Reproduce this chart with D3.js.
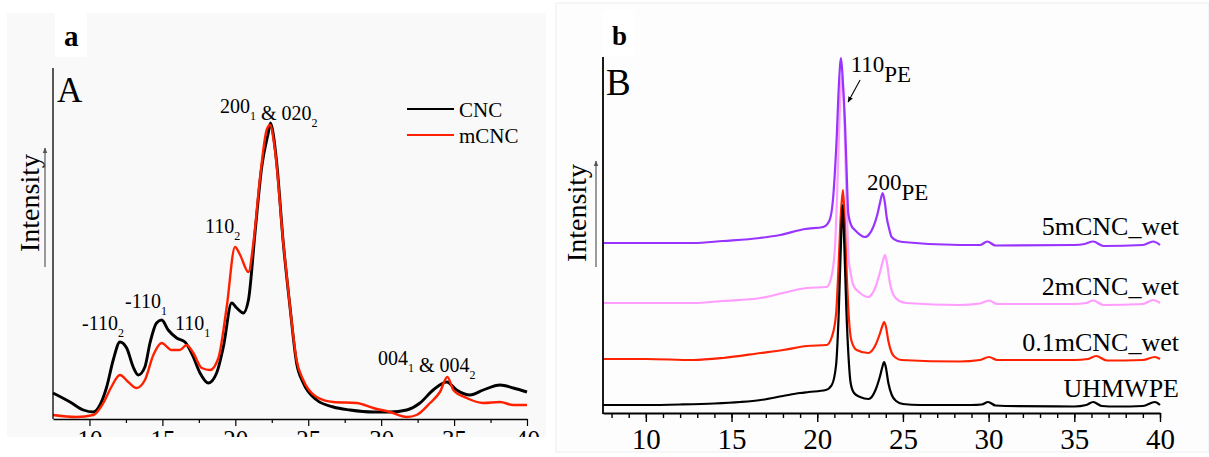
<!DOCTYPE html>
<html>
<head>
<meta charset="utf-8">
<script src="https://cdn.jsdelivr.net/npm/d3@7"></script>
<style>
  body { margin: 0; background: #fff; }
  svg { display: block; }
  text { font-family: "Liberation Serif", "Times New Roman", serif; fill: #000; }
</style>
</head>
<body>
<div id="container"></div>
<script>
// ---------- panel a data (2theta, intensity a.u.) ----------
let cnc = [[7.5,26],[8.67,17],[9.58,9],[10.27,7],[10.72,14],[11.18,32],[11.63,59],[12.09,77],[12.55,71],
  [13.0,52],[13.35,44],[13.8,52],[14.15,76],[14.6,96],[14.95,99],[15.4,89],[15.98,81],[16.55,77],[17.12,62],
  [17.58,46],[18.15,36],[18.72,46],[19.18,72],[19.75,116],[20.1,111],[20.55,106],[20.9,119],[21.35,186],
  [21.81,252],[22.26,286],[22.42,296],[22.6,285],[22.84,256],[23.29,176],[23.75,112],[24.2,56],[24.66,36],
  [25.58,19],[26.72,12],[27.86,9],[29.46,7],[30.6,7],[31.75,9],[32.66,16],[33.57,29],[34.5,37],[35.17,29],
  [36.1,24],[37.0,29],[38.15,34],[39.06,31],[40,27]];
let mcnc = [[7.5,4],[9.1,2],[10.27,4],[10.95,16],[11.5,32],[12.09,44],[12.66,37],[13.23,31],[13.8,39],
  [14.38,64],[14.95,76],[15.63,69],[16.2,69],[16.66,74],[17.12,66],[17.7,51],[18.27,49],[18.84,61],[19.41,112],
  [19.98,172],[20.33,164],[20.9,147],[21.24,176],[21.7,242],[22.15,289],[22.38,294],[22.72,269],[23.29,176],
  [23.75,112],[24.2,59],[24.66,39],[25.58,22],[26.72,17],[28.32,16],[29.46,11],[30.6,7],[31.75,2],[32.43,4],
  [33.35,16],[34.03,27],[34.54,42],[34.95,29],[35.86,21],[37.0,16],[38.15,17],[39.06,14],[40,14]];
let ticksA = [10, 15, 20, 25, 30, 35, 40];
let minorA = [12.5, 17.5, 22.5, 27.5, 32.5, 37.5];
let legendA = ["CNC", "mCNC"];

// ---------- panel b data (2theta, intensity above own baseline) ----------
let uhmwpe = [[7.5,0],[10,0],[12,0.5],[14,1.5],[15.5,3],[16.7,5],[18,9],[19,12],[19.5,13],[20.5,15],[20.85,20],
  [21.1,40],[21.25,90],[21.38,160],[21.48,200],[21.58,160],[21.7,95],[21.82,50],[21.95,22],[22.15,12],[22.5,8],
  [23.0,6],[23.4,15],[23.65,28],[23.8,38],[23.9,43],[24.0,38],[24.15,22],[24.35,10],[24.6,4],[25,1],[26,0],
  [29,0],[29.6,0.5],[29.97,3],[30.4,-0.5],[31,-1],[35,-1.5],[35.7,0],[36.1,3],[36.6,-1],[37.5,-1.5],[39,-1],
  [39.7,3],[40,0]];
let wet01 = [[7.5,0],[10,0],[12.75,-1],[14.5,1],[16.7,6],[18,9],[19.4,13],[20.55,14],[20.85,22],[21.1,45],
  [21.25,95],[21.38,145],[21.5,169],[21.6,140],[21.72,85],[21.85,40],[22.0,18],[22.3,9],[22.97,6],[23.4,14],
  [23.65,25],[23.8,33],[23.9,37],[24.0,33],[24.15,18],[24.35,6],[24.6,1],[24.9,-1],[28.3,-2.5],[29.5,-1],
  [30.02,2],[30.5,-1],[35,-1],[35.8,0],[36.27,3],[36.9,-1.5],[39,-1],[39.7,2],[40,0]];
let wet2 = [[7.5,0],[10,0],[12.75,0],[14.5,2],[16.7,5],[18,10],[19.4,15],[20.55,16],[20.85,28],[21.05,60],
  [21.2,130],[21.33,200],[21.45,228],[21.57,190],[21.7,110],[21.83,45],[21.95,30],[22.1,18],[22.5,10],[22.97,6],
  [23.4,16],[23.65,30],[23.83,42],[23.95,48],[24.07,40],[24.22,22],[24.45,8],[24.8,2],[25.2,0],[28.3,-2],
  [29.5,-0.5],[30.02,2.5],[30.5,-1],[35,-1],[35.7,0],[36.1,2.5],[36.7,-2],[39,-1],[39.6,3],[40,0]];
let wet5 = [[7.5,0],[10,0],[12.75,0],[14.5,2],[16.66,5],[17.83,8],[19.28,14],[20.35,16],[20.7,22],[20.9,40],
  [21.13,103],[21.27,160],[21.39,185],[21.5,160],[21.62,120],[21.72,70],[21.81,30],[22.0,17],[22.2,13],
  [22.78,6],[23.27,16],[23.5,28],[23.66,40],[23.82,50],[23.95,40],[24.05,26],[24.2,14],[24.34,6],[24.7,2],
  [25,1],[28.33,-2],[29.5,-2],[29.92,1.5],[30.4,-2.5],[35,-2],[35.6,-1],[36.1,1.5],[36.7,-3],[39,-2],
  [39.6,1.5],[40,-2]];
let namesB = ["2mCNC_wet", "5mCNC_wet", "0.1mCNC_wet", "UHMWPE"];   // drawing order
let offsetsB = [110, 170, 54, 8];
let ticksB = [10, 15, 20, 25, 30, 35, 40];
let minorB = d3.range(8, 41);

let w = 1209;
let h = 457;
let serif = '"Liberation Serif", "Times New Roman", serif';

let viz = d3.select("#container")
  .append("svg")
    .attr("width", w)
    .attr("height", h)
;

let defs = viz.append("defs");
function addArrow(id, color){
  defs.append("marker")
      .attr("id", id)
      .attr("viewBox", "0 0 10 10")
      .attr("refX", 9).attr("refY", 5)
      .attr("markerWidth", 6).attr("markerHeight", 7)
      .attr("markerUnits", "userSpaceOnUse")
      .attr("orient", "auto")
    .append("path")
      .attr("d", "M0,1L10,5L0,9Z")
      .attr("fill", color);
}
addArrow("arrGray", "#555");
addArrow("arrBlack", "#000");
defs.append("clipPath").attr("id", "clipA")
  .append("rect").attr("x", 7).attr("y", 13).attr("width", 539).attr("height", 424);
defs.append("clipPath").attr("id", "clipB")
  .append("rect").attr("x", 556).attr("y", 3).attr("width", 653).attr("height", 449);

// ================= panel a =================
let xA = d3.scaleLinear().domain([7.5, 40]).range([53, 527]);
let yA = d3.scaleLinear().domain([0, 351]).range([419, 68]);

viz.append("rect")
    .attr("x", 7).attr("y", 13).attr("width", 539).attr("height", 424)
    .attr("fill", "#f9f9f9");
viz.append("rect")
    .attr("x", 55).attr("y", 13).attr("width", 32).attr("height", 44)
    .attr("fill", "#fff");
viz.append("text").attr("x", 64).attr("y", 46)
    .style("font-size", "29px").style("font-weight", "bold").text("a");

let gA = viz.append("g").attr("clip-path", "url(#clipA)");

let lineA = d3.line()
  .x(d => xA(d[0]))
  .y(d => yA(d[1]))
  .curve(d3.curveMonotoneX);

gA.append("path").datum(cnc)
    .attr("d", lineA).attr("fill", "none")
    .attr("stroke", "#000").attr("stroke-width", 2.9).attr("stroke-linejoin", "round");
gA.append("path").datum(mcnc)
    .attr("d", lineA).attr("fill", "none")
    .attr("stroke", "#ff2000").attr("stroke-width", 2.4).attr("stroke-linejoin", "round");

// axes
let minorAxisA = d3.axisBottom(xA).tickValues(minorA).tickSize(4).tickFormat("").tickSizeOuter(0);
let majorAxisA = d3.axisBottom(xA).tickValues(ticksA).tickSize(7).tickPadding(4)
  .tickFormat(d3.format("d")).tickSizeOuter(0);
gA.append("g").attr("transform", "translate(0," + yA(0) + ")").call(minorAxisA)
  .call(g => g.select(".domain").remove());
let axA = gA.append("g").attr("transform", "translate(0," + yA(0) + ")").call(majorAxisA);
axA.selectAll("text").style("font-family", serif).style("font-size", "25px").attr("fill", "#000");
gA.selectAll(".tick line").attr("stroke", "#000").attr("stroke-width", 1.2);
axA.select(".domain").attr("stroke", "#000").attr("stroke-width", 1.3);
viz.append("line")
    .attr("x1", xA(7.5)).attr("x2", xA(7.5)).attr("y1", yA(0)).attr("y2", yA(351))
    .attr("stroke", "#000").attr("stroke-width", 1.3);

viz.append("text").attr("x", 57).attr("y", 102).style("font-size", "35px").text("A");

// intensity label a
viz.append("text")
    .attr("transform", "translate(39,203) rotate(-90)")
    .attr("text-anchor", "middle")
    .style("font-size", "28px").text("Intensity");
viz.append("line")
    .attr("x1", 45).attr("x2", 45).attr("y1", 267).attr("y2", 148)
    .attr("stroke", "#666").attr("stroke-width", 1.3)
    .attr("marker-end", "url(#arrGray)");

// legend a
let legColors = ["#000", "#ff2000"];
legendA.forEach((name, i) => {
  let y = 109 + i * 26;
  viz.append("line").attr("x1", 407).attr("x2", 454).attr("y1", y).attr("y2", y)
      .attr("stroke", legColors[i]).attr("stroke-width", 2);
  viz.append("text").attr("x", 459).attr("y", y + 8).style("font-size", "21px").text(name);
});

// peak labels a
function peakLabel(x, y, parts){
  let t = viz.append("text").attr("x", x).attr("y", y).style("font-size", "20px");
  parts.forEach(p => {
    t.append("tspan").text(p[0]);
    t.append("tspan").attr("dy", 7).style("font-size", "12px").text(p[1]);
    t.append("tspan").attr("dy", -7).text("");
  });
}
peakLabel(220, 113, [["200", "1"], [" & 020", "2"]]);
peakLabel(205, 233, [["110", "2"]]);
peakLabel(82, 330, [["-110", "2"]]);
peakLabel(125, 308, [["-110", "1"]]);
peakLabel(175, 330, [["110", "1"]]);
peakLabel(378, 365, [["004", "1"], [" & 004", "2"]]);

// ================= panel b =================
let xB = d3.scaleLinear().domain([7.5, 40]).range([603, 1160]);
let yB = d3.scaleLinear().domain([0, 356]).range([413, 57]);

viz.append("rect")
    .attr("x", 556).attr("y", 3).attr("width", 653).attr("height", 449)
    .attr("fill", "#fdfdfd").attr("stroke", "#eee");
viz.append("rect")
    .attr("x", 603).attr("y", 10).attr("width", 32).attr("height", 46)
    .attr("fill", "#fff");
viz.append("text").attr("x", 612).attr("y", 45)
    .style("font-size", "27px").style("font-weight", "bold").text("b");

let gB = viz.append("g").attr("clip-path", "url(#clipB)");
let seriesB = [wet2, wet5, wet01, uhmwpe];
let colorsB = ["#ff9eff", "#9933ff", "#ff2200", "#000"];

seriesB.forEach((s, i) => {
  let lineB = d3.line()
    .x(d => xB(d[0]))
    .y(d => yB(offsetsB[i] + d[1]))
    .curve(d3.curveMonotoneX);
  gB.append("path").datum(s)
      .attr("d", lineB).attr("fill", "none")
      .attr("stroke", colorsB[i]).attr("stroke-width", 2.2).attr("stroke-linejoin", "round");
  gB.append("text")
      .attr("x", 1179).attr("y", yB(offsetsB[i] + 8))
      .attr("text-anchor", "end")
      .style("font-size", "26px").text(namesB[i]);
});

let minorAxisB = d3.axisBottom(xB).tickValues(minorB).tickSize(5).tickFormat("").tickSizeOuter(0);
let majorAxisB = d3.axisBottom(xB).tickValues(ticksB).tickSize(9).tickPadding(6)
  .tickFormat(d3.format("d")).tickSizeOuter(0);
gB.append("g").attr("transform", "translate(0," + yB(0) + ")").call(minorAxisB)
  .call(g => g.select(".domain").remove());
let axB = gB.append("g").attr("transform", "translate(0," + yB(0) + ")").call(majorAxisB);
axB.selectAll("text").style("font-family", serif).style("font-size", "29px").attr("fill", "#000");
gB.selectAll(".tick line").attr("stroke", "#000").attr("stroke-width", 1.4);
axB.select(".domain").attr("stroke", "#000").attr("stroke-width", 2);
viz.append("line")
    .attr("x1", xB(7.5)).attr("x2", xB(7.5)).attr("y1", yB(0) + 1).attr("y2", yB(356))
    .attr("stroke", "#000").attr("stroke-width", 1.8);

viz.append("text").attr("x", 606).attr("y", 95).style("font-size", "37px").text("B");

viz.append("text")
    .attr("transform", "translate(586,213) rotate(-90)")
    .attr("text-anchor", "middle")
    .style("font-size", "28px").text("Intensity");
viz.append("line")
    .attr("x1", 596).attr("x2", 596).attr("y1", 267).attr("y2", 161)
    .attr("stroke", "#666").attr("stroke-width", 1.3)
    .attr("marker-end", "url(#arrGray)");

// peak labels b
function peLabel(x, y, main){
  let t = viz.append("text").attr("x", x).attr("y", y).style("font-size", "23px");
  t.append("tspan").text(main);
  t.append("tspan").attr("dy", 10).text("PE");
}
peLabel(xB(21.95), 72, "110");
peLabel(xB(22.9), 190, "200");
viz.append("line")
    .attr("x1", xB(22.5)).attr("y1", 80).attr("x2", xB(21.8)).attr("y2", 102)
    .attr("stroke", "#000").attr("stroke-width", 1.1)
    .attr("marker-end", "url(#arrBlack)");
</script>
</body>
</html>
